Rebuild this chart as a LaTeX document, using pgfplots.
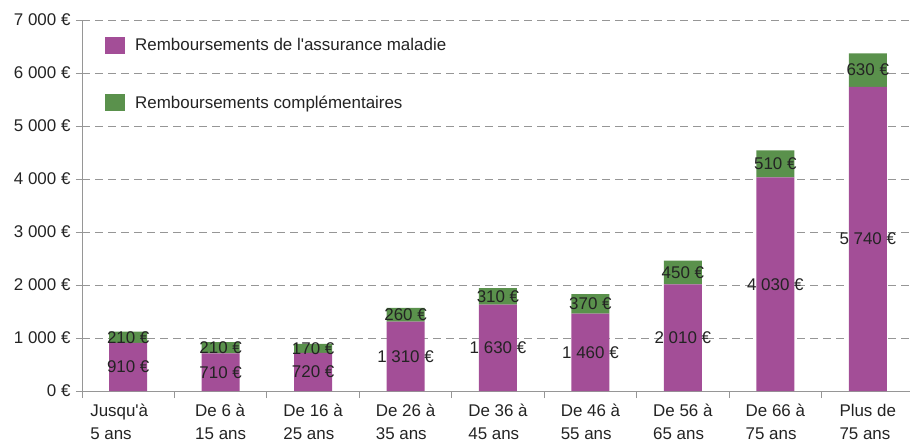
\documentclass[border=0pt]{standalone}
\usepackage{pgfplots}
\pgfplotsset{compat=1.18}
\usepackage{fontspec}
\setmainfont{Liberation Sans}

\definecolor{maladie}{RGB}{163,78,151}
\definecolor{compl}{RGB}{90,145,76}
\definecolor{axisgray}{RGB}{150,150,150}
\definecolor{txt}{RGB}{35,35,35}

\begin{document}
\begin{tikzpicture}
\begin{axis}[
    width=828bp, height=371bp, scale only axis,
    ybar stacked, bar width=38bp,
    xmin=-0.5, xmax=8.457,
    ymin=0, ymax=7000,
    ytick={0,1000,...,7000},
    xtick={0,...,8},
    xticklabels={{Jusqu\textquotesingle à\hspace*{18bp}\\5 ans},{De 6 à\\15 ans},{De 16 à\\25 ans},{De 26 à\\35 ans},{De 36 à\\45 ans},{De 46 à\\55 ans},{De 56 à\\65 ans},{De 66 à\\75 ans},{Plus de\\75 ans}},
    x tick label style={align=left, font=\fontsize{17}{23}\selectfont, text=txt, yshift=-4bp},
    major x tick style={draw=none},
    extra x ticks={-0.5,0.5,...,7.5},
    extra x tick labels={},
    extra x tick style={major tick length=7bp, tick align=outside, major x tick style={draw=axisgray}, grid=none},
    axis x line*=bottom, axis y line*=left,
    axis line style={draw=axisgray, line width=0.8bp, -},
    tick style={draw=axisgray, line width=0.8bp},
    y tick label style={font=\fontsize{17}{20}\selectfont, text=txt},
    major tick length=6bp, tick align=outside,
    ymajorgrids,
    grid style={draw=axisgray, line width=0.8bp, dash pattern=on 8bp off 5bp},
    /pgf/number format/.cd, 1000 sep={\ }, assume math mode=true, /pgfplots/.cd,
    yticklabel={\pgfmathprintnumber{\tick}~€},
    yticklabel style={xshift=-2bp},
    visualization depends on=rawy \as \rawy,
    nodes near coords={\pgfmathprintnumber{\rawy}~€},
    every node near coord/.append style={anchor=center, font=\fontsize{17}{20}\selectfont, text=txt},
    legend style={at={(rel axis cs:0,1)}, anchor=north west, xshift=20bp, yshift=-14bp,
        draw=none, fill=none, font=\fontsize{17}{20}\selectfont, text=txt,
        row sep=40bp, column sep=8bp, legend cell align=left},
    legend image code/.code={\fill[#1] (0bp,-8.5bp) rectangle (20bp,8.5bp);},
]
\addplot[fill=maladie, draw=none] coordinates {(0,910) (1,710) (2,720) (3,1310) (4,1630) (5,1460) (6,2010) (7,4030) (8,5740)};
\addlegendentry{Remboursements de l\textquotesingle assurance maladie}
\addplot[fill=compl, draw=none] coordinates {(0,210) (1,210) (2,170) (3,260) (4,310) (5,370) (6,450) (7,510) (8,630)};
\addlegendentry{Remboursements complémentaires}
\end{axis}
\pgfresetboundingbox
\path (-82bp,-51bp) rectangle (828bp,391bp);
\end{tikzpicture}
\end{document}
